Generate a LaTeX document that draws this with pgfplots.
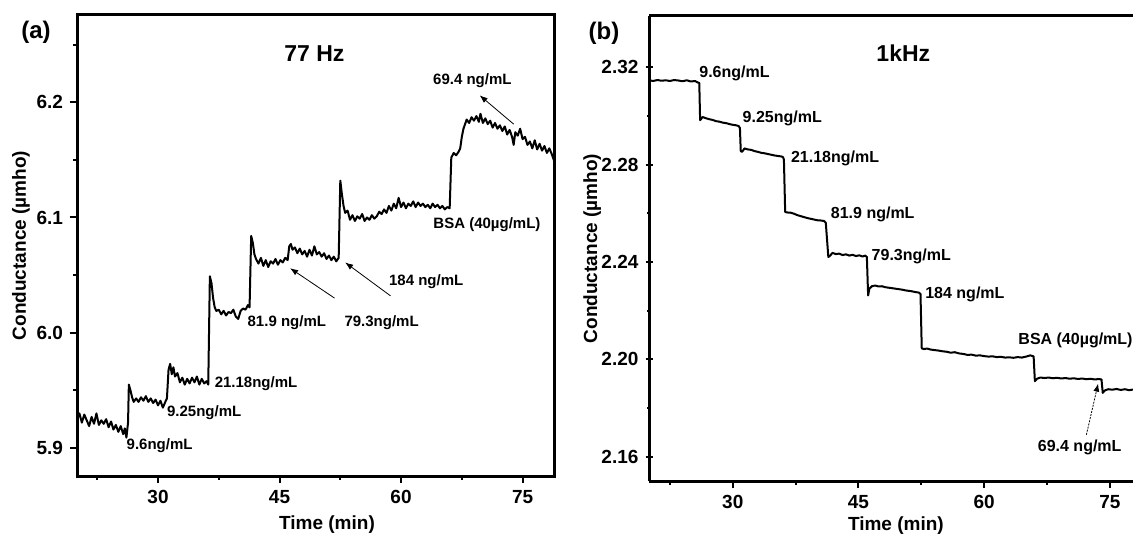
\documentclass[border=0pt]{standalone}
\usepackage{fontspec}
\setmainfont{Liberation Sans}
\usepackage{pgfplots}
\pgfplotsset{compat=1.18}
\usetikzlibrary{arrows.meta}
\pgfplotstableread{
x y
20.0 5.925
20.3 5.930
20.6 5.922
20.9 5.929
21.2 5.924
21.5 5.919
21.8 5.927
22.1 5.921
22.4 5.930
22.7 5.920
23.0 5.924
23.3 5.921
23.6 5.925
23.9 5.918
24.2 5.923
24.5 5.916
24.8 5.920
25.1 5.914
25.4 5.919
25.7 5.912
25.9 5.917
26.1 5.909
26.3 5.922
26.4 5.955
26.6 5.950
26.8 5.944
27.0 5.940
27.3 5.943
27.6 5.940
27.9 5.944
28.2 5.941
28.5 5.945
28.8 5.940
29.1 5.943
29.4 5.939
29.7 5.942
30.0 5.937
30.3 5.941
30.6 5.935
30.9 5.940
31.1 5.943
31.3 5.968
31.5 5.973
31.7 5.964
31.9 5.970
32.1 5.962
32.4 5.965
32.7 5.957
33.0 5.961
33.3 5.955
33.6 5.960
33.9 5.956
34.2 5.961
34.5 5.957
34.8 5.962
35.1 5.955
35.4 5.960
35.7 5.956
36.0 5.958
36.2 5.955
36.4 6.049
36.6 6.043
36.8 6.030
37.0 6.022
37.2 6.019
37.5 6.020
37.8 6.016
38.1 6.019
38.4 6.015
38.7 6.018
39.0 6.017
39.3 6.020
39.6 6.014
39.9 6.012
40.2 6.019
40.5 6.021
40.8 6.020
41.1 6.024
41.3 6.022
41.5 6.084
41.7 6.078
41.9 6.068
42.1 6.064
42.4 6.060
42.7 6.065
43.0 6.058
43.3 6.063
43.6 6.057
43.9 6.062
44.2 6.060
44.5 6.064
44.8 6.059
45.1 6.063
45.4 6.061
45.7 6.065
46.0 6.063
46.2 6.075
46.4 6.077
46.6 6.072
46.9 6.074
47.2 6.069
47.5 6.073
47.8 6.068
48.1 6.071
48.4 6.066
48.7 6.072
49.0 6.067
49.3 6.075
49.6 6.068
49.9 6.070
50.2 6.066
50.5 6.069
50.8 6.064
51.1 6.067
51.4 6.063
51.7 6.066
52.0 6.062
52.3 6.065
52.5 6.132
52.7 6.120
52.9 6.110
53.1 6.104
53.4 6.106
53.7 6.098
54.0 6.102
54.3 6.097
54.6 6.101
54.9 6.099
55.2 6.103
55.5 6.097
55.8 6.100
56.1 6.098
56.4 6.102
56.7 6.099
57.0 6.101
57.3 6.105
57.6 6.103
57.9 6.107
58.2 6.104
58.5 6.110
58.8 6.106
59.1 6.112
59.4 6.108
59.7 6.117
60.0 6.109
60.3 6.113
60.6 6.108
60.9 6.112
61.2 6.110
61.5 6.114
61.8 6.109
62.1 6.113
62.4 6.110
62.7 6.112
63.0 6.109
63.3 6.111
63.6 6.108
63.9 6.112
64.2 6.109
64.5 6.111
64.8 6.108
65.1 6.110
65.4 6.107
65.7 6.109
66.0 6.108
66.2 6.152
66.5 6.156
66.8 6.154
67.1 6.157
67.3 6.160
67.5 6.170
67.7 6.177
67.9 6.181
68.1 6.185
68.4 6.182
68.7 6.187
69.0 6.184
69.3 6.188
69.6 6.183
69.8 6.190
70.1 6.182
70.4 6.186
70.7 6.181
71.0 6.184
71.3 6.178
71.6 6.182
71.9 6.177
72.2 6.180
72.5 6.175
72.8 6.179
73.1 6.172
73.4 6.176
73.7 6.170
73.9 6.163
74.1 6.174
74.4 6.171
74.7 6.177
75.0 6.168
75.3 6.170
75.6 6.163
75.9 6.166
76.2 6.160
76.5 6.167
76.8 6.159
77.1 6.164
77.4 6.158
77.7 6.162
78.0 6.156
78.3 6.160
78.6 6.155
78.9 6.149
}\dataA
\pgfplotstableread{
x y
20.0 2.3146
20.5 2.3143
21.0 2.3147
21.5 2.3144
22.0 2.3146
22.5 2.3143
23.0 2.3147
23.5 2.3145
24.0 2.3142
24.5 2.3146
25.0 2.3141
25.5 2.3143
25.8 2.3137
26.0 2.3135
26.1 2.2982
26.4 2.2995
26.8 2.2990
27.2 2.2986
27.6 2.2983
28.0 2.2978
28.4 2.2976
28.8 2.2972
29.2 2.2970
29.6 2.2966
30.0 2.2963
30.4 2.2961
30.7 2.2958
30.85 2.2950
30.95 2.2855
31.1 2.2852
31.4 2.2866
31.8 2.2862
32.2 2.2860
32.6 2.2855
33.0 2.2852
33.4 2.2848
33.8 2.2846
34.2 2.2843
34.6 2.2840
35.0 2.2837
35.4 2.2835
35.8 2.2833
36.0 2.2830
36.1 2.2820
36.25 2.2605
36.5 2.2603
36.9 2.2602
37.3 2.2598
37.7 2.2592
38.1 2.2588
38.5 2.2584
38.9 2.2580
39.3 2.2577
39.7 2.2574
40.1 2.2571
40.5 2.2570
40.9 2.2568
41.1 2.2560
41.4 2.2420
41.6 2.2425
41.9 2.2437
42.3 2.2432
42.7 2.2434
43.1 2.2428
43.5 2.2431
43.9 2.2426
44.3 2.2429
44.7 2.2424
45.1 2.2427
45.5 2.2422
45.8 2.2426
46.0 2.2420
46.15 2.2262
46.3 2.2290
46.6 2.2300
47.0 2.2303
47.4 2.2299
47.8 2.2300
48.2 2.2296
48.6 2.2294
49.0 2.2292
49.4 2.2290
49.8 2.2288
50.2 2.2286
50.6 2.2283
51.0 2.2281
51.4 2.2279
51.8 2.2276
52.2 2.2274
52.4 2.2268
52.55 2.2045
52.8 2.2042
53.2 2.2044
53.6 2.2040
54.0 2.2038
54.5 2.2036
55.0 2.2033
55.5 2.2031
56.0 2.2027
56.5 2.2029
57.0 2.2024
57.5 2.2022
58.0 2.2018
58.5 2.2019
59.0 2.2015
59.5 2.2016
60.0 2.2013
60.5 2.2011
61.0 2.2012
61.5 2.2009
62.0 2.2010
62.5 2.2007
63.0 2.2008
63.5 2.2006
64.0 2.2009
64.5 2.2007
65.0 2.2011
65.5 2.2016
65.9 2.2012
66.05 2.1910
66.3 2.1920
66.7 2.1925
67.2 2.1923
67.7 2.1925
68.2 2.1922
68.7 2.1924
69.2 2.1921
69.7 2.1923
70.2 2.1920
70.7 2.1922
71.2 2.1919
71.7 2.1921
72.2 2.1918
72.7 2.1920
73.2 2.1917
73.7 2.1919
74.0 2.1917
74.15 2.1862
74.4 2.1872
74.8 2.1877
75.3 2.1875
75.8 2.1878
76.3 2.1874
76.8 2.1877
77.3 2.1873
77.8 2.1876
}\dataB
\tikzset{ann/.style={font=\fontsize{7.5}{8}\selectfont\bfseries, inner sep=0pt},
  annb/.style={font=\fontsize{8}{9}\selectfont\bfseries, inner sep=0pt}}
\pgfplotsset{
  common/.style={
    scale only axis,
    anchor=south west,
    clip=false,
    axis line style={line width=1.5pt},
    every tick/.style={black, line width=1pt},
    major tick length=3.5pt,
    minor tick length=2pt,
    tick align=outside,
    tick pos=left,
    /pgf/number format/assume math mode=true,
    tick label style={font=\fontsize{9.5}{11}\selectfont\bfseries},
    xtick={30,45,60,75},
    minor xtick={22.5,37.5,52.5,67.5},
    xmin=20,
    xlabel={Time (min)},
    ylabel={Conductance (µmho)},
    ylabel style={at={(axis description cs:-0.117,0.5)}, anchor=center, font=\fontsize{9.5}{11}\selectfont\bfseries},
  },
}
\begin{document}
\begin{tikzpicture}
\begin{axis}[common,
  at={(38.5pt,29.5pt)}, width=239pt, height=230.5pt,
  xmax=79, ymin=5.8757, ymax=6.2757,
  ytick={5.9,6.0,6.1,6.2}, minor ytick={5.95,6.05,6.15,6.25},
  yticklabel style={/pgf/number format/.cd, fixed, fixed zerofill, precision=1},
  xlabel style={at={(axis description cs:0.523,-0.106)}, anchor=center, font=\fontsize{9.5}{11}\selectfont\bfseries},
]
\addplot[black, line width=1pt, line join=round] table[x=x, y=y] {\dataA};
\node[font=\fontsize{11.5}{12}\selectfont\bfseries] at (axis cs:49.3,6.242) {77 Hz};
\node[ann] at (axis cs:68.8,6.219) {69.4 ng/mL};
\draw[line width=0.4pt, -{Latex[length=4pt,width=3pt]}] (axis cs:73.9,6.181) -- (axis cs:69.7,6.206);
\node[ann] at (axis cs:70.6,6.094) {BSA (40µg/mL)};
\node[ann] at (axis cs:63.1,6.044) {184 ng/mL};
\draw[line width=0.4pt, -{Latex[length=4pt,width=3pt]}] (axis cs:58.7,6.032) -- (axis cs:53.1,6.061);
\node[ann] at (axis cs:57.6,6.009) {79.3ng/mL};
\draw[line width=0.4pt, -{Latex[length=4pt,width=3pt]}] (axis cs:51.8,6.030) -- (axis cs:46.3,6.056);
\node[ann] at (axis cs:45.9,6.009) {81.9 ng/mL};
\node[ann] at (axis cs:42.1,5.956) {21.18ng/mL};
\node[ann] at (axis cs:35.7,5.931) {9.25ng/mL};
\node[ann] at (axis cs:30.2,5.902) {9.6ng/mL};
\end{axis}
\begin{axis}[common,
  at={(324.5pt,27pt)}, width=243pt, height=232.5pt,
  axis x line=box, axis y line=left,
  axis line style={-, line width=1.5pt},
  xtick pos=bottom, ytick pos=left,
  xmax=78, ymin=2.15, ymax=2.341,
  ytick={2.16,2.20,2.24,2.28,2.32}, minor ytick={2.18,2.22,2.26,2.30},
  yticklabel style={/pgf/number format/.cd, fixed, fixed zerofill, precision=2},
  xlabel style={at={(axis description cs:0.508,-0.095)}, anchor=center, font=\fontsize{9.5}{11}\selectfont\bfseries},
]
\addplot[black, line width=1pt, line join=round] table[x=x, y=y] {\dataB};
\node[font=\fontsize{11.5}{12}\selectfont\bfseries] at (axis cs:50.35,2.3258) {1kHz};
\node[annb] at (axis cs:30.2,2.3173) {9.6ng/mL};
\node[annb] at (axis cs:35.9,2.2988) {9.25ng/mL};
\node[annb] at (axis cs:42.2,2.2826) {21.18ng/mL};
\node[annb] at (axis cs:46.7,2.2596) {81.9 ng/mL};
\node[annb] at (axis cs:51.3,2.2423) {79.3ng/mL};
\node[annb] at (axis cs:57.7,2.2267) {184 ng/mL};
\node[annb] at (axis cs:70.9,2.2077) {BSA (40µg/mL)};
\node[annb] at (axis cs:71.4,2.1637) {69.4 ng/mL};
\draw[line width=0.4pt, dash pattern=on 1pt off 0.6pt, -{Latex[length=4pt,width=3pt]}] (axis cs:72.2,2.169) -- (axis cs:73.6,2.190);
\end{axis}
\node[font=\fontsize{12}{13}\selectfont\bfseries] at (18pt,251.5pt) {(a)};
\node[font=\fontsize{12}{13}\selectfont\bfseries] at (302pt,251pt) {(b)};
\pgfresetboundingbox
\useasboundingbox (0pt,0pt) rectangle (566.5pt,267.5pt);
\end{tikzpicture}
\end{document}
